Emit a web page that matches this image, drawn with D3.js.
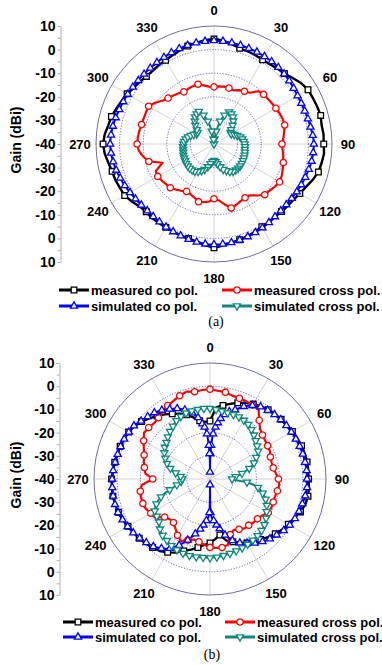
<!DOCTYPE html>
<html>
<head>
<meta charset="utf-8">
<script src="https://cdn.jsdelivr.net/npm/d3@7"></script>
<style>
  html, body { margin: 0; padding: 0; background: #fff; }
  svg { display: block; font-family: "Liberation Sans", Arial, sans-serif; }
</style>
</head>
<body>
<svg id="fig" width="382" height="665"></svg>
<script>
// angle categories (deg) and tick labels
const angleTicks = [0, 30, 60, 90, 120, 150, 180, 210, 240, 270, 300, 330];
const gainTicks = [-40, -35, -30, -25, -20, -15, -10, -5, 0, 5, 10];
const gridGains = [-30, -20, -10, 0];
const step5 = d3.range(0, 360, 5);

const seriesNames = ["measured co pol.", "measured cross pol.", "simulated co pol.", "simulated cross pol."];

// ---- (a) gains in dBi, every 5 deg ----
const aMeasCo = [4.5, 4, 3, 2, 1.8, 1.5, 1.2, 1.3, 1.7, 2.2, 3.5, 5,
  6, 6.2, 6.5, 6.8, 6.3, 6.6, 6.5, 6.8, 6.3, 5.8, 4.5, 3,
  2, 1.2, 0.8, 0.5, 0.3, 0.5, 0.5, 1, 1.5, 2, 2.5, 3.2,
  4, 3, 2, 1.5, 1.2, 1, 0.8, 0.8, 1, 0.6, 1.2, 2.5,
  3.7, 4, 4.5, 4.7, 5.5, 6.5, 7, 6.5, 5.5, 5, 4, 3.2,
  2.5, 1.5, 1, 0.5, 0.5, 0.8, 1, 1.5, 2.2, 3, 3.5, 4.2];
const aMeasCross = [-15.8, -15.5, -15.3, -15.5, -15.8, -14.8, -14.2, -13.5, -10.8, -10.3, -10.2, -10,
  -9.7, -9.3, -9, -9, -9.8, -10.5, -11.2, -10.8, -10.2, -9.6, -9, -8.3,
  -7.9, -8.5, -9.2, -9.6, -11.5, -13.5, -13.7, -13.3, -12.5, -11.9, -14, -16,
  -16.8, -15.5, -15, -14.7, -15.8, -16.5, -16.8, -15.8, -14.8, -13.8, -13.5, -13,
  -12.5, -12.8, -16.8, -11.4, -9.5, -8, -7.4, -7.6, -7.9, -8.2, -8.3, -8.2,
  -8, -9.5, -11.5, -12.5, -13.2, -13.8, -14.5, -14.2, -13.9, -13.8, -14.8, -15.6];
const aSimCo = [3.8, 3.7, 3.5, 3.3, 3.1, 3, 2.8, 2.6, 2.4, 2, 1.6, 1.2,
  0.9, 0.8, 0.9, 1.2, 1.5, 2, 2.3, 2.2, 2, 1.6, 1.2, 0.8,
  0.5, 0.2, 0, 0, 0.2, 0.6, 1, 1.4, 1.8, 2.1, 2.4, 2.6,
  2.6, 2.5, 2.2, 1.8, 1.4, 1, 0.6, 0.3, 0.1, 0, 0.2, 0.6,
  1.1, 1.7, 2.3, 2.9, 3.4, 3.8, 4, 3.8, 3.5, 3.1, 2.7, 2.4,
  2.2, 2, 1.9, 1.9, 2, 2.2, 2.4, 2.7, 3, 3.3, 3.5, 3.7];
const aSimCross = [-40, -38, -34.5, -30, -27, -25, -25.3, -26, -27.3, -28.8, -30.5, -31.5,
  -31.5, -30.5, -29.5, -28.5, -27.8, -27.3, -27, -26.8, -26.7, -26.5, -26.2, -26,
  -25.8, -25.6, -25.5, -25.5, -25.6, -25.8, -26.5, -27.5, -28.5, -30, -31.5, -32.5,
  -33, -32.5, -31.5, -30, -28.5, -27.5, -26.5, -25.8, -25.6, -25.5, -25.5, -25.6,
  -25.8, -26, -26.2, -26.5, -26.7, -26.8, -27, -27.3, -27.8, -28.5, -29.5, -30.5,
  -31.5, -31.5, -30.5, -28.8, -27.3, -26, -25.3, -24.8, -27, -30, -34.5, -38];

// ---- (b) gains in dBi ----
const bMeasCo = [-15, -9, -7.8, -6.5, -5, -3.8, -2.7, -1.7, -1, -0.5, 0, 0.5,
  1, 1.5, 2, 2.3, 2.5, 2.5, 2.5, 2.8, 2.9, 2.5, 1.5, 0,
  -1, -2, -3.3, -4.6, -6, -7.2, -8.1, -9.8, -11.2, -12.5, -15.5, -14,
  -12.4, -11.5, -10, -8.5, -7, -5, -3.5, -2.1, -1.5, -0.7, -0.2, 0.2,
  0.8, 1.5, 2, 2.3, 2.5, 2.5, 2.4, 2, 1.7, 1.4, 1.2, 1,
  0.5, -0.3, -1.5, -3, -4.5, -6, -7.5, -9, -10.5, -12.5, -14.5, -15.3];
const bMeasCross = [-1.3, -1.8, -2, -2.8, -3, -3, -3.2, -3.5, -7, -9.5, -10.5, -11,
  -11.3, -11.5, -12.3, -12.5, -12.3, -11.5, -10.5, -10, -10.5, -11, -11, -10.8,
  -11, -12.5, -13.3, -13.5, -14, -14, -15, -15.8, -14.5, -10.5, -10, -10.2,
  -10.5, -11.5, -12.5, -13, -12, -10.5, -12, -14, -15.5, -15.5, -14.5, -11,
  -10.5, -9.5, -9.2, -9.2, -9.5, -10.5, -15.3, -12, -11.3, -10.5, -9.8, -8.5,
  -7, -5.3, -5.5, -6, -5.5, -4.5, -3.5, -2.8, -1.8, -1, -1.8, -1.5];
const bSimCoAngles = [0, 0.5, 1, 2, 4, 6, 8, 10, 13, 16, 20, 25, 30, 35, 40, 45, 50, 55, 60, 65, 70, 75, 80, 85,
  90, 95, 100, 105, 110, 115, 120, 125, 130, 135, 140, 145, 150, 155, 160, 165, 169, 172, 175, 177.5, 179, 179.5,
  180, 180.5, 181, 182.5, 185, 188, 191, 195, 200, 205, 210, 215, 220, 225, 230, 235, 240, 245, 250, 255, 260,
  265, 270, 275, 280, 285, 290, 295, 300, 305, 310, 315, 320, 325, 330, 335, 340, 345, 349, 352, 354, 356, 358,
  359, 359.5];
const bSimCo = [-37, -32, -29, -25.5, -20.5, -17.5, -15.5, -13.5, -11.5, -9.8, -8.3, -5.5, -3.4, -2, -1.3, -0.7, -0.2, 0.2, 0.5, 0.8, 1.1, 1.4, 1.6, 1.8,
  1.8, 2, 1.7, 1.2, 0.8, 0.4, -0.3, -1.2, -2.5, -3.5, -4.8, -6.3, -8, -9.6, -11.8, -15, -18.2, -20, -22, -23.5, -25.5, -30,
  -37.5, -30, -25.5, -23.5, -22, -20, -18, -15.5, -12, -8.5, -5.5, -3.5, -2, -1.2, -0.4, 0.4, 1, 1.6, 2.2, 2.4, 2.4,
  2.3, 2.2, 1.9, 1.5, 1.2, 1, 0.8, 0.4, 0, -1.2, -2, -2.7, -3.8, -5.2, -6.5, -8.3, -10.5, -13, -16, -17.5, -20.5, -25.5,
  -29, -32];
const bSimCross = [-9.6, -10, -10.3, -10.5, -10.5, -10.5, -10.8, -11.3, -12.2, -13.2, -14.3, -15.2,
  -16, -18, -19.8, -22.5, -26, -29, -30.5, -24, -19, -16.5, -14.5, -13,
  -11.8, -10.5, -9.3, -8.6, -8.1, -7.8, -7.5, -7.2, -7, -6.8, -6.5, -6.2,
  -6, -6.1, -5.9, -5.8, -5.9, -6.3, -6.8, -7.6, -8.2, -9.5, -11.3, -12,
  -12.5, -14.5, -17.5, -22, -25.5, -27.5, -28, -27.3, -25, -22.3, -20.3, -18.7,
  -17.3, -16.2, -15.5, -14.3, -13.2, -12.2, -11, -10.3, -9.8, -9.6, -9.6, -9.5];

const styles = [
  { color: "#000000", symbol: d3.symbolSquare, size: 32, rot: 0, width: 2.4, curve: d3.curveLinearClosed },
  { color: "#ff0000", symbol: d3.symbolCircle, size: 32, rot: 0, width: 2.2, curve: d3.curveLinearClosed },
  { color: "#0000ff", symbol: d3.symbolTriangle, size: 22, rot: 0, width: 2.0, curve: d3.curveCatmullRomClosed },
  { color: "#10877d", symbol: d3.symbolTriangle, size: 22, rot: 180, width: 2.0, curve: d3.curveCatmullRomClosed }
];

const svg = d3.select("#fig");

function pts(angles, gains) {
  return angles.map((a, i) => ({ a: a, g: gains[i] }));
}

function drawPanel(p) {
  const g = svg.append("g");
  const r = d3.scaleLinear().domain([-40, 10]).range([0, p.R]).clamp(true);
  const rad = a => a * Math.PI / 180;
  const px = d => p.cx + r(d.g) * Math.sin(rad(d.a));
  const py = d => p.cy - r(d.g) * Math.cos(rad(d.a));

  const plot = g.append("g").attr("transform", `translate(${p.cx},${p.cy})`);

  // spokes
  plot.selectAll("line.spoke").data(angleTicks).join("line")
    .attr("x1", 0).attr("y1", 0)
    .attr("x2", a => p.R * Math.sin(rad(a)))
    .attr("y2", a => -p.R * Math.cos(rad(a)))
    .attr("stroke", "#cfcfcf").attr("stroke-width", 0.9);

  // dotted rings
  plot.selectAll("circle.grid").data(gridGains).join("circle")
    .attr("r", d => r(d))
    .attr("fill", "none").attr("stroke", "#3b3bd6")
    .attr("stroke-width", 0.8).attr("stroke-dasharray", "1.2,1.6");

  plot.append("circle").attr("r", r(10))
    .attr("fill", "none").attr("stroke", "#5c5c9c").attr("stroke-width", 0.9);

  // angle labels
  g.selectAll("text.ang").data(angleTicks).join("text")
    .attr("x", a => p.cx + (p.R + 16) * Math.sin(rad(a)))
    .attr("y", a => p.cy - (p.R + 16) * Math.cos(rad(a)))
    .attr("text-anchor", "middle").attr("dominant-baseline", "central")
    .attr("font-size", 13).attr("font-weight", "bold")
    .text(a => a);

  // left gain axis, mirrored about the centre
  const yTop = d3.scaleLinear().domain([-40, 10]).range([p.cy, p.cy - p.R]);
  const yBot = d3.scaleLinear().domain([-40, 10]).range([p.cy, p.cy + p.R]);
  [[yTop, true], [yBot, false]].forEach(([sc, top]) => {
    const ax = g.append("g").attr("transform", `translate(${p.axisX},0)`)
      .call(d3.axisLeft(sc).tickValues(gainTicks)
        .tickFormat(d => (d % 10 === 0 && (top || d !== -40)) ? d : "")
        .tickSizeInner(3).tickSizeOuter(0).tickPadding(2));
    ax.select(".domain").attr("stroke", "#b0b0b0");
    ax.selectAll(".tick line").attr("stroke", "#b0b0b0");
    ax.selectAll(".tick text").attr("fill", "#000")
      .attr("font-size", 14).attr("font-weight", "bold")
      .attr("font-family", "Liberation Sans, Arial, sans-serif");
  });

  g.append("text")
    .attr("transform", `translate(${p.titleX},${p.titleY}) rotate(-90)`)
    .attr("text-anchor", "middle").attr("dominant-baseline", "central")
    .attr("font-size", 14).attr("font-weight", "bold")
    .text("Gain (dBi)");

  // series
  p.series.forEach((s, i) => {
    const st = styles[i];
    const line = d3.lineRadial()
      .angle(d => rad(d.a)).radius(d => r(d.g)).curve(st.curve);
    plot.append("path").datum(s.data)
      .attr("d", line)
      .attr("fill", "none").attr("stroke", st.color)
      .attr("stroke-width", st.width).attr("stroke-linejoin", "round");
    const marks = s.data.filter((d, k) => k % s.every === 0 && Number.isInteger(d.a));
    g.selectAll(null).data(marks).join("path")
      .attr("d", d3.symbol(st.symbol, st.size))
      .attr("transform", d => `translate(${px(d)},${py(d)}) rotate(${st.rot})`)
      .attr("fill", "#fff").attr("stroke", st.color).attr("stroke-width", 1.3);
  });

  // legend
  const lg = g.append("g");
  seriesNames.forEach((name, i) => {
    const st = styles[i];
    const col = i % 2, row = Math.floor(i / 2);
    const x0 = p.legX[col], y0 = p.legY[row];
    lg.append("line").attr("x1", x0).attr("x2", x0 + 30)
      .attr("y1", y0).attr("y2", y0)
      .attr("stroke", st.color).attr("stroke-width", 3);
    lg.append("path").attr("d", d3.symbol(st.symbol, st.size)())
      .attr("transform", `translate(${x0 + 15},${y0}) rotate(${st.rot})`)
      .attr("fill", "#fff").attr("stroke", st.color).attr("stroke-width", 1.3);
    lg.append("text").attr("x", x0 + 32).attr("y", y0)
      .attr("dominant-baseline", "central")
      .attr("font-size", 13).attr("font-weight", "bold")
      .text(name);
  });

  g.append("text").attr("x", p.cx + 2).attr("y", p.capY)
    .attr("text-anchor", "middle").attr("dominant-baseline", "central")
    .attr("font-family", "Liberation Serif, Times New Roman, serif")
    .attr("font-size", 14).text(p.caption);
}

drawPanel({
  cx: 214, cy: 144, R: 118, axisX: 60.5, titleX: 16, titleY: 140,
  legX: [59, 222], legY: [290, 306], capY: 321, caption: "(a)",
  series: [
    { data: pts(step5, aMeasCo), every: 3 },
    { data: pts(step5, aMeasCross), every: 3 },
    { data: pts(step5, aSimCo), every: 1 },
    { data: pts(step5, aSimCross), every: 1 }
  ]
});

drawPanel({
  cx: 210, cy: 479, R: 116, axisX: 59.5, titleX: 16, titleY: 475,
  legX: [63, 225], legY: [622, 637], capY: 654, caption: "(b)",
  series: [
    { data: pts(step5, bMeasCo), every: 2 },
    { data: pts(step5, bMeasCross), every: 2 },
    { data: pts(bSimCoAngles, bSimCo), every: 1 },
    { data: pts(step5, bSimCross), every: 1 }
  ]
});
</script>
</body>
</html>
